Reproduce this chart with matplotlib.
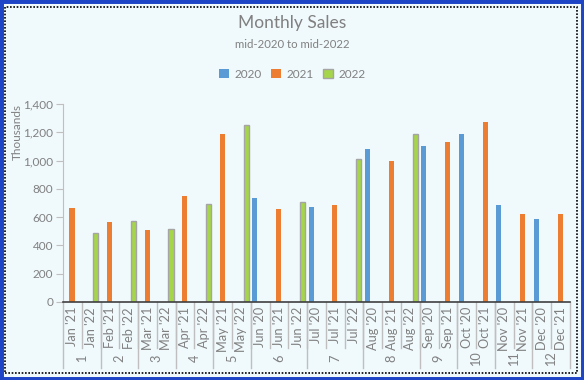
import matplotlib
matplotlib.use('Agg')
import matplotlib.pyplot as plt
from matplotlib.patches import Rectangle
import numpy as np

plt.rcParams['font.family'] = ['Lato', 'DejaVu Sans']

# inner categories, their month group and which year (series) they belong to
labels = ["Jan '21", "Jan '22", "Feb '21", "Feb '22", "Mar '21", "Mar '22",
          "Apr '21", "Apr '22", "May '21", "May '22",
          "Jun '20", "Jun '21", "Jun '22", "Jul '20", "Jul '21", "Jul '22",
          "Aug '20", "Aug '21", "Aug '22", "Sep '20", "Sep '21",
          "Oct '20", "Oct '21", "Nov '20", "Nov '21", "Dec '20", "Dec '21"]
groups = ['1', '2', '3', '4', '5', '6', '7', '8', '9', '10', '11', '12']
group_sizes = [2, 2, 2, 2, 2, 3, 3, 3, 2, 2, 2, 2]
years = ['2020', '2021', '2022']
sales = [665, 485, 565, 570, 510, 515, 750, 690, 1190, 1250,
         735, 655, 710, 670, 685, 1010, 1080, 1000, 1185, 1100, 1130,
         1185, 1275, 685, 625, 585, 625]

colors = {'2020': '#5b9bd5', '2021': '#ed7d31', '2022': '#a5d64a'}
gray = '#808080'
bg = '#f0f9fc'

fig = plt.figure(figsize=(5.84, 3.80), dpi=100)
fig.patch.set_facecolor(bg)

# borders
fig.patches.append(Rectangle((0, 0), 1, 1, transform=fig.transFigure, fill=False,
                             edgecolor='#1f45c7', linewidth=5, zorder=0))
fig.patches.append(Rectangle((5 / 584, 7 / 380), 572 / 584, 366 / 380, transform=fig.transFigure,
                             fill=False, edgecolor='black', linewidth=1.2, linestyle=(0, (1, 1)), zorder=0))

ax = fig.add_axes([63 / 584, 1 - 302 / 380, 507 / 584, 198 / 380])
ax.set_facecolor(bg)

x = np.arange(len(labels))
w = 0.27
offs = {'2020': -0.29, '2021': -0.02, '2022': 0.25}
for yr in years:
    xs = [x[i] + 0.5 + offs[yr] for i in range(len(labels)) if labels[i][-2:] == yr[-2:]]
    vs = [sales[i] for i in range(len(labels)) if labels[i][-2:] == yr[-2:]]
    if yr == '2022':
        ax.bar(xs, vs, width=w, color=colors[yr], edgecolor='#a5a5a5', linewidth=1, label=yr)
    else:
        ax.bar(xs, vs, width=w, color=colors[yr], label=yr)

ax.set_xlim(0, len(labels))
ax.set_ylim(0, 1400)
ax.set_yticks(range(0, 1401, 200))
ax.set_yticklabels(['{:,}'.format(v) for v in range(0, 1401, 200)], color=gray, fontsize=8.5)
ax.tick_params(axis='y', length=5, color='#bfbfbf', pad=2)
ax.set_xticks([])
for s in ['top', 'right']:
    ax.spines[s].set_visible(False)
ax.spines['left'].set_color('#bfbfbf')
ax.spines['bottom'].set_color('#404040')
ax.spines['bottom'].set_linewidth(1.2)
ax.set_ylabel('Thousands', color=gray, fontsize=8.5, loc='top')
ax.yaxis.set_label_coords(-0.079, 1.0)

# multi-level category axis
tr = ax.get_xaxis_transform()
for i, lab in enumerate(labels):
    ax.text(i + 0.5, -0.025, lab, transform=tr, rotation=90, ha='center', va='top',
            color=gray, fontsize=9.2)
    if i > 0:
        ax.plot([i, i], [0, -0.23], transform=tr, color='#bfbfbf', lw=1, clip_on=False)
start = 0
ax.plot([0, 0], [0, -0.335], transform=tr, color='#bfbfbf', lw=1, clip_on=False)
for g, n in zip(groups, group_sizes):
    ax.text(start + n / 2, -0.285, g, transform=tr, rotation=90, ha='center', va='center',
            color=gray, fontsize=9.2)
    start += n
    ax.plot([start, start], [0, -0.335], transform=tr, color='#bfbfbf', lw=1, clip_on=False)

fig.text(0.5, 1 - 23 / 380, 'Monthly Sales', ha='center', va='center', color=gray, fontsize=12.5)
fig.text(0.5, 1 - 45 / 380, 'mid-2020 to mid-2022', ha='center', va='center', color=gray, fontsize=8.2)
fig.legend(loc='center', bbox_to_anchor=(0.5, 1 - 74 / 380), ncol=3, frameon=False,
           fontsize=8.5, labelcolor=gray, handlelength=0.9, handleheight=0.9,
           handletextpad=0.4, columnspacing=0.8)

fig.savefig('out.png', dpi=100, facecolor=bg)
